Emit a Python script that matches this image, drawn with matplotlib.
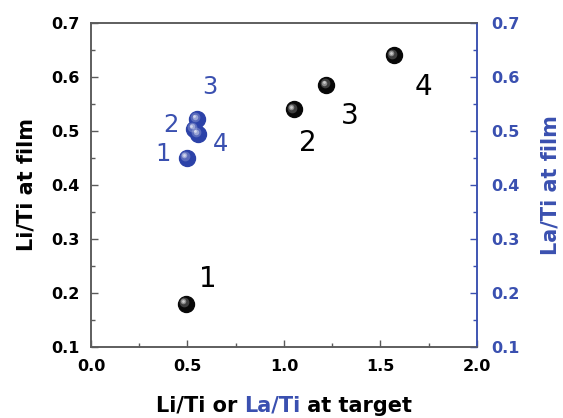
import matplotlib
matplotlib.use('Agg')
import matplotlib.pyplot as plt
import matplotlib.transforms as mtransforms
from matplotlib.offsetbox import TextArea, HPacker, AnchoredOffsetbox
from matplotlib.ticker import MultipleLocator, FormatStrFormatter

plt.rcParams['font.family'] = ['DejaVu Sans']

# Li/Ti ratio: target vs film
li_target = [0.49, 1.05, 1.22, 1.57]
li_film = [0.18, 0.54, 0.585, 0.64]
li_names = ['1', '2', '3', '4']

# La/Ti ratio: target vs film
la_target = [0.495, 0.535, 0.55, 0.555]
la_film = [0.45, 0.504, 0.522, 0.494]
la_names = ['1', '2', '3', '4']

blue = '#3a50b0'
grey = '#5a5a5a'

# label offsets in points (dx, dy)
li_offsets = [(16, 18), (10, -24), (17, -22), (21, -23)]
la_offsets = [(-17, 3), (-17, 3), (9, 23), (16, -7)]


def shadedBalls(ax, x, y, color, zorder=3):
    # dark sphere with a soft highlight up and to the left
    ax.plot(x, y, 'o', ls='none', ms=11.5, color=color, mec=color, zorder=zorder)
    for ms, alpha, d in [(7, 0.22, 1.3), (4, 0.4, 1.8), (2, 0.55, 2.0)]:
        tr = mtransforms.offset_copy(ax.transData, fig=ax.figure, x=-d, y=d, units='points')
        ax.plot(x, y, 'o', ls='none', ms=ms, color='white', mec='none', alpha=alpha,
                transform=tr, zorder=zorder + 1)


fig = plt.figure(figsize=(5.63, 4.18), dpi=100)
ax = fig.add_axes([0.1616, 0.170, 0.6856, 0.775])
ax2 = ax.twinx()

for a in (ax, ax2):
    a.set_xlim(0.0, 2.0)
    a.set_ylim(0.1, 0.7)

ax.xaxis.set_major_locator(MultipleLocator(0.5))
ax.xaxis.set_minor_locator(MultipleLocator(0.25))
ax.yaxis.set_major_locator(MultipleLocator(0.1))
ax.yaxis.set_minor_locator(MultipleLocator(0.05))
ax2.yaxis.set_major_locator(MultipleLocator(0.1))
ax2.yaxis.set_minor_locator(MultipleLocator(0.05))
ax.xaxis.set_major_formatter(FormatStrFormatter('%.1f'))
ax.yaxis.set_major_formatter(FormatStrFormatter('%.1f'))
ax2.yaxis.set_major_formatter(FormatStrFormatter('%.1f'))

ax.tick_params(which='both', direction='in', color=grey, width=1.0, labelsize=11.5,
               top=False, right=False)
ax.tick_params(which='major', length=5)
ax.tick_params(which='minor', length=3)
ax.tick_params(axis='x', pad=9)
ax.tick_params(axis='y', pad=8)
ax2.tick_params(which='both', direction='in', color=blue, width=1.0, labelsize=11.5,
                labelcolor=blue, pad=10.5)
ax2.tick_params(which='major', length=5)
ax2.tick_params(which='minor', length=3)
for lab in ax.get_xticklabels() + ax.get_yticklabels() + ax2.get_yticklabels():
    lab.set_fontweight('bold')

for a in (ax, ax2):
    for side in ['left', 'bottom', 'top']:
        a.spines[side].set_color(grey)
        a.spines[side].set_linewidth(1.1)
    a.spines['right'].set_color(blue)
    a.spines['right'].set_linewidth(1.1)

shadedBalls(ax, li_target, li_film, '#080808')
shadedBalls(ax2, la_target, la_film, '#2c42a8')

for x, y, name, (dx, dy) in zip(li_target, li_film, li_names, li_offsets):
    ax.annotate(name, (x, y), xytext=(dx, dy), textcoords='offset points',
                ha='center', va='center', fontsize=20, color='black')
for x, y, name, (dx, dy) in zip(la_target, la_film, la_names, la_offsets):
    ax2.annotate(name, (x, y), xytext=(dx, dy), textcoords='offset points',
                 ha='center', va='center', fontsize=17.5, color=blue)

ax.set_ylabel('Li/Ti at film', fontsize=15, fontweight='bold', labelpad=11)
ax2.set_ylabel('La/Ti at film', fontsize=15, fontweight='bold', color=blue, labelpad=15)

# two-coloured x label
parts = [('Li/Ti or ', 'black'), ('La/Ti', blue), (' at target', 'black')]
boxes = [TextArea(t, textprops=dict(color=c, fontsize=15, fontweight='bold')) for t, c in parts]
xlab = AnchoredOffsetbox(loc='upper center', child=HPacker(children=boxes, pad=0, sep=0),
                         bbox_to_anchor=(0.5, -0.15), bbox_transform=ax.transAxes,
                         frameon=False, pad=0, borderpad=0)
ax.add_artist(xlab)

fig.savefig('out.png', dpi=100)
